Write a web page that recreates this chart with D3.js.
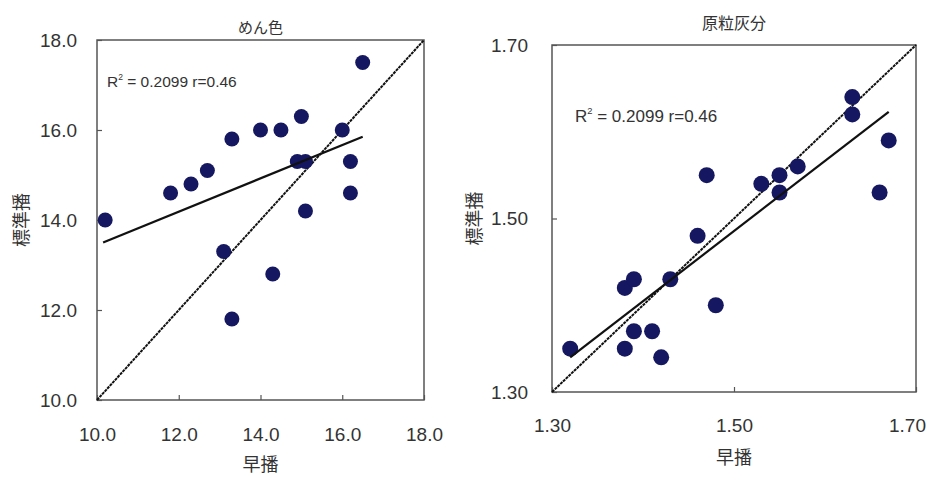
<!DOCTYPE html>
<html>
<head>
<meta charset="utf-8">
<script src="https://cdn.jsdelivr.net/npm/d3@7"></script>
<style>
  html, body { margin: 0; padding: 0; background: #ffffff; }
  svg { display: block; }
  .num { font-family: "Liberation Sans", Arial, sans-serif; fill: #333; }
  .jp { font-family: "Noto Sans CJK JP", sans-serif; fill: #333; }
</style>
</head>
<body>
<svg id="chart" width="934" height="484"></svg>
<script>
// めん色: early sowing (x) vs standard sowing (y)
const menX = [10.2, 11.8, 12.3, 12.7, 13.3, 13.1, 13.3, 14.0, 14.5, 14.3, 15.0, 14.9, 15.1, 15.1, 16.0, 16.2, 16.2, 16.5];
const menY = [14.0, 14.6, 14.8, 15.1, 15.8, 13.3, 11.8, 16.0, 16.0, 12.8, 16.3, 15.3, 15.3, 14.2, 16.0, 15.3, 14.6, 17.5];
const menFitX = [10.15, 16.5];
const menFitY = [13.5, 15.85];
const menTicks = [10, 12, 14, 16, 18];

// 原粒灰分: early sowing (x) vs standard sowing (y)
const ashX = [1.32, 1.38, 1.39, 1.38, 1.39, 1.41, 1.42, 1.43, 1.46, 1.47, 1.48, 1.53, 1.55, 1.55, 1.57, 1.63, 1.63, 1.67, 1.66];
const ashY = [1.35, 1.42, 1.43, 1.35, 1.37, 1.37, 1.34, 1.43, 1.48, 1.55, 1.40, 1.54, 1.55, 1.53, 1.56, 1.64, 1.62, 1.59, 1.53];
const ashFitX = [1.32, 1.67];
const ashFitY = [1.34, 1.623];
const ashTicks = [1.30, 1.50, 1.70];

const statText = "0.2099 r=0.46";
const xTitle = "早播";
const yTitle = "標準播";

const svg = d3.select("#chart");

const panels = [
  {
    title: "めん色", xs: menX, ys: menY, fitX: menFitX, fitY: menFitY,
    domain: [10, 18], ticks: menTicks, fmt: d3.format(".1f"),
    left: 97, right: 424, top: 40, bottom: 400,
    titleY: 33, titleSize: 15, statX: 107, statY: 87, statSize: 15.5,
    xPad: 28, yPad: 20, xTitleY: 471, yTitleX: 20, r: 7.5, lastDx: 0
  },
  {
    title: "原粒灰分", xs: ashX, ys: ashY, fitX: ashFitX, fitY: ashFitY,
    domain: [1.30, 1.70], ticks: ashTicks, fmt: d3.format(".2f"),
    left: 552, right: 916, top: 45, bottom: 392,
    titleY: 29, titleSize: 16, statX: 575, statY: 122, statSize: 17,
    xPad: 27, yPad: 24, xTitleY: 464, yTitleX: 473, r: 8, lastDx: -9
  }
];

panels.forEach(p => {
  const x = d3.scaleLinear().domain(p.domain).range([p.left, p.right]);
  const y = d3.scaleLinear().domain(p.domain).range([p.bottom, p.top]);
  const g = svg.append("g");

  // axes with inward ticks
  const xAxis = d3.axisBottom(x).tickValues(p.ticks).tickFormat(p.fmt)
    .tickSizeInner(-5).tickSizeOuter(0).tickPadding(p.xPad);
  const yAxis = d3.axisLeft(y).tickValues(p.ticks).tickFormat(p.fmt)
    .tickSizeInner(-5).tickSizeOuter(0).tickPadding(p.yPad);

  const gx = g.append("g").attr("transform", `translate(0,${p.bottom})`).call(xAxis);
  const gy = g.append("g").attr("transform", `translate(${p.left},0)`).call(yAxis);
  [gx, gy].forEach(a => {
    a.select(".domain").remove();
    a.selectAll("line").attr("stroke", "#555").attr("stroke-width", 1.2);
    a.selectAll("text").attr("class", "num").attr("font-size", 19)
      .attr("font-family", null).attr("fill", "#333");
  });
  // keep the last x label inside the page edge
  gx.selectAll("text").filter((d, i, n) => i === n.length - 1).attr("dx", p.lastDx);

  // frame
  g.append("rect")
    .attr("x", p.left).attr("y", p.top)
    .attr("width", p.right - p.left).attr("height", p.bottom - p.top)
    .attr("fill", "none").attr("stroke", "#555").attr("stroke-width", 1.5);

  // 1:1 reference line
  g.append("line")
    .attr("x1", x(p.domain[0])).attr("y1", y(p.domain[0]))
    .attr("x2", x(p.domain[1])).attr("y2", y(p.domain[1]))
    .attr("stroke", "#111").attr("stroke-width", 2)
    .attr("stroke-dasharray", "3,0.8");

  // points
  g.append("g").selectAll("circle")
    .data(d3.zip(p.xs, p.ys))
    .join("circle")
    .attr("cx", d => x(d[0])).attr("cy", d => y(d[1]))
    .attr("r", p.r).attr("fill", "#151860");

  // regression line
  g.append("line")
    .attr("x1", x(p.fitX[0])).attr("y1", y(p.fitY[0]))
    .attr("x2", x(p.fitX[1])).attr("y2", y(p.fitY[1]))
    .attr("stroke", "#111").attr("stroke-width", 2.2);

  // statistics
  const st = g.append("text").attr("class", "num")
    .attr("x", p.statX).attr("y", p.statY).attr("font-size", p.statSize);
  st.append("tspan").text("R");
  st.append("tspan").attr("font-size", p.statSize * 0.55).attr("dy", -p.statSize * 0.45).text("2");
  st.append("tspan").attr("dy", p.statSize * 0.45).text(" = " + statText);

  // titles
  g.append("text").attr("class", "jp")
    .attr("x", (p.left + p.right) / 2).attr("y", p.titleY)
    .attr("text-anchor", "middle").attr("font-size", p.titleSize)
    .text(p.title);
  g.append("text").attr("class", "jp")
    .attr("x", (p.left + p.right) / 2).attr("y", p.xTitleY)
    .attr("text-anchor", "middle").attr("font-size", 18)
    .text(xTitle);
  g.append("text").attr("class", "jp")
    .attr("transform", `translate(${p.yTitleX},${(p.top + p.bottom) / 2}) rotate(-90)`)
    .attr("text-anchor", "middle").attr("dominant-baseline", "central")
    .attr("font-size", 18)
    .text(yTitle);
});
</script>
</body>
</html>
